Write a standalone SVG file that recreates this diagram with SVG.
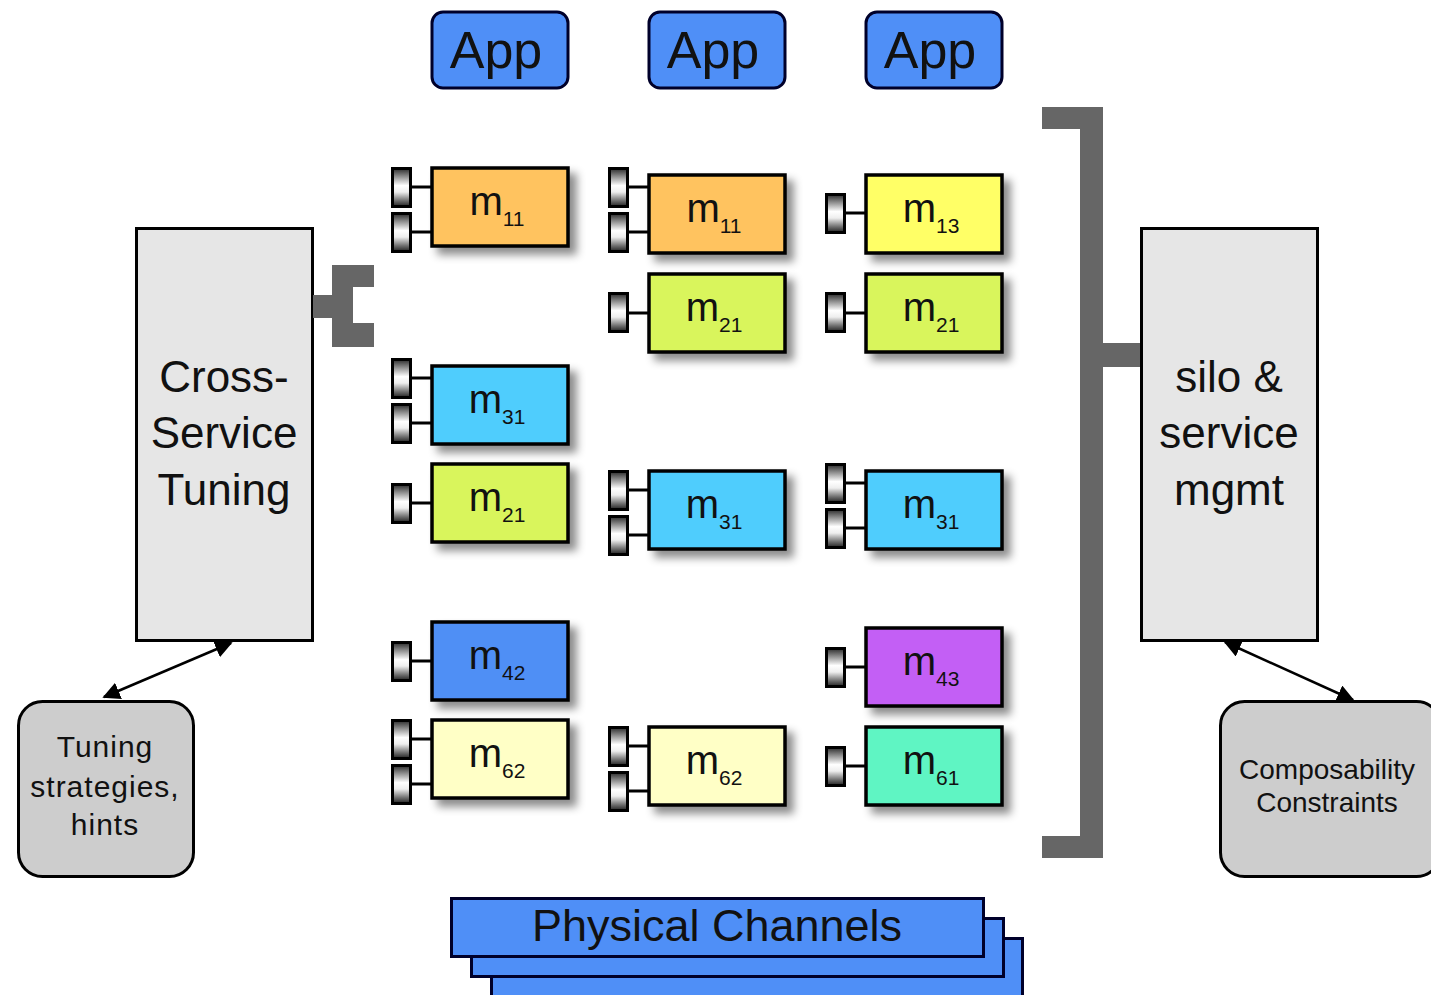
<svg xmlns="http://www.w3.org/2000/svg" width="1431" height="995" viewBox="0 0 1431 995">
  <defs>
    <linearGradient id="portGrad" x1="0" y1="0" x2="0" y2="1">
      <stop offset="0" stop-color="#2a2a2a"/>
      <stop offset="0.2" stop-color="#8a8a8a"/>
      <stop offset="0.45" stop-color="#ffffff"/>
      <stop offset="0.62" stop-color="#eeeeee"/>
      <stop offset="0.85" stop-color="#6e6e6e"/>
      <stop offset="1" stop-color="#202020"/>
    </linearGradient>
    <filter id="shadow" x="-10%" y="-10%" width="130%" height="140%">
      <feDropShadow dx="7" dy="7" stdDeviation="4" flood-color="#000" flood-opacity="0.45"/>
    </filter>
    <marker id="arrowHead" viewBox="0 0 10 10" refX="9" refY="5" markerWidth="7" markerHeight="7" orient="auto-start-reverse" markerUnits="strokeWidth">
      <path d="M0,0 L10,5 L0,10 z" fill="#000"/>
    </marker>
  </defs>
  <style>
    text { font-family: "Liberation Sans", Arial, sans-serif; fill: #111; }
    .app rect { fill: #4f8ff7; stroke: #00002a; stroke-width: 3; }
    .app text { font-size: 52px; text-anchor: middle; }
    .mod rect.box { stroke: #000; stroke-width: 3.5; filter: url(#shadow); }
    .mod text { font-size: 40px; text-anchor: middle; }
    .mod tspan.sub { font-size: 21px; }
    .port { fill: url(#portGrad); stroke: #000; stroke-width: 3; }
    .plink { stroke: #000; stroke-width: 3; }
    .panel rect { fill: #e6e6e6; stroke: #000; stroke-width: 3; }
    .panel text { font-size: 44px; text-anchor: middle; }
    .note rect { fill: #cdcdcd; stroke: #000; stroke-width: 3; }
    .note text { text-anchor: middle; }
    .bracket { fill: #666666; }
    .chan rect { fill: #4f8ff7; stroke: #00002a; stroke-width: 3; }
    .chan text { font-size: 45px; text-anchor: middle; }
    .orange { fill: #ffc35f; }
    .yellow { fill: #ffff66; }
    .lime { fill: #d9f55c; }
    .cyan { fill: #4fcdfd; }
    .blue { fill: #4f8ff5; }
    .cream { fill: #ffffc6; }
    .purple { fill: #c35ff5; }
    .mint { fill: #5ff5c3; }
  </style>

  <rect width="1431" height="995" fill="#ffffff"/>

  <!-- Applications -->
  <g id="app1" class="app"><rect x="432" y="12" width="136" height="76" rx="11"/><text x="496" y="68">App</text></g>
  <g id="app2" class="app"><rect x="649" y="12" width="136" height="76" rx="11"/><text x="713" y="68">App</text></g>
  <g id="app3" class="app"><rect x="866" y="12" width="136" height="76" rx="11"/><text x="930" y="68">App</text></g>

  <!-- Column 1 modules -->
  <g id="c1-m11" class="mod">
    <rect class="box orange" x="432" y="168" width="136" height="78"/>
    <text x="497" y="215">m<tspan class="sub" dy="11">11</tspan></text>
    <line class="plink" x1="410" y1="187" x2="432" y2="187"/><line class="plink" x1="410" y1="232" x2="432" y2="232"/>
    <rect class="port" x="392.5" y="168.5" width="18" height="38"/><rect class="port" x="392.5" y="213.5" width="18" height="38"/>
  </g>
  <g id="c1-m31" class="mod">
    <rect class="box cyan" x="432" y="366" width="136" height="78"/>
    <text x="497" y="413">m<tspan class="sub" dy="11">31</tspan></text>
    <line class="plink" x1="410" y1="378" x2="432" y2="378"/><line class="plink" x1="410" y1="423" x2="432" y2="423"/>
    <rect class="port" x="392.5" y="359.5" width="18" height="38"/><rect class="port" x="392.5" y="404.5" width="18" height="38"/>
  </g>
  <g id="c1-m21" class="mod">
    <rect class="box lime" x="432" y="464" width="136" height="78"/>
    <text x="497" y="511">m<tspan class="sub" dy="11">21</tspan></text>
    <line class="plink" x1="410" y1="503" x2="432" y2="503"/>
    <rect class="port" x="392.5" y="484.5" width="18" height="38"/>
  </g>
  <g id="c1-m42" class="mod">
    <rect class="box blue" x="432" y="622" width="136" height="78"/>
    <text x="497" y="669">m<tspan class="sub" dy="11">42</tspan></text>
    <line class="plink" x1="410" y1="661" x2="432" y2="661"/>
    <rect class="port" x="392.5" y="642.5" width="18" height="38"/>
  </g>
  <g id="c1-m62" class="mod">
    <rect class="box cream" x="432" y="720" width="136" height="78"/>
    <text x="497" y="767">m<tspan class="sub" dy="11">62</tspan></text>
    <line class="plink" x1="410" y1="739" x2="432" y2="739"/><line class="plink" x1="410" y1="784" x2="432" y2="784"/>
    <rect class="port" x="392.5" y="720.5" width="18" height="38"/><rect class="port" x="392.5" y="765.5" width="18" height="38"/>
  </g>

  <!-- Column 2 modules -->
  <g id="c2-m11" class="mod">
    <rect class="box orange" x="649" y="175" width="136" height="78"/>
    <text x="714" y="222">m<tspan class="sub" dy="11">11</tspan></text>
    <line class="plink" x1="627" y1="187" x2="649" y2="187"/><line class="plink" x1="627" y1="232" x2="649" y2="232"/>
    <rect class="port" x="609.5" y="168.5" width="18" height="38"/><rect class="port" x="609.5" y="213.5" width="18" height="38"/>
  </g>
  <g id="c2-m21" class="mod">
    <rect class="box lime" x="649" y="274" width="136" height="78"/>
    <text x="714" y="321">m<tspan class="sub" dy="11">21</tspan></text>
    <line class="plink" x1="627" y1="313" x2="649" y2="313"/>
    <rect class="port" x="609.5" y="293.5" width="18" height="38"/>
  </g>
  <g id="c2-m31" class="mod">
    <rect class="box cyan" x="649" y="471" width="136" height="78"/>
    <text x="714" y="518">m<tspan class="sub" dy="11">31</tspan></text>
    <line class="plink" x1="627" y1="490" x2="649" y2="490"/><line class="plink" x1="627" y1="535" x2="649" y2="535"/>
    <rect class="port" x="609.5" y="471.5" width="18" height="38"/><rect class="port" x="609.5" y="516.5" width="18" height="38"/>
  </g>
  <g id="c2-m62" class="mod">
    <rect class="box cream" x="649" y="727" width="136" height="78"/>
    <text x="714" y="774">m<tspan class="sub" dy="11">62</tspan></text>
    <line class="plink" x1="627" y1="746" x2="649" y2="746"/><line class="plink" x1="627" y1="791" x2="649" y2="791"/>
    <rect class="port" x="609.5" y="727.5" width="18" height="38"/><rect class="port" x="609.5" y="772.5" width="18" height="38"/>
  </g>

  <!-- Column 3 modules -->
  <g id="c3-m13" class="mod">
    <rect class="box yellow" x="866" y="175" width="136" height="78"/>
    <text x="931" y="222">m<tspan class="sub" dy="11">13</tspan></text>
    <line class="plink" x1="844" y1="213" x2="866" y2="213"/>
    <rect class="port" x="826.5" y="194.5" width="18" height="38"/>
  </g>
  <g id="c3-m21" class="mod">
    <rect class="box lime" x="866" y="274" width="136" height="78"/>
    <text x="931" y="321">m<tspan class="sub" dy="11">21</tspan></text>
    <line class="plink" x1="844" y1="313" x2="866" y2="313"/>
    <rect class="port" x="826.5" y="293.5" width="18" height="38"/>
  </g>
  <g id="c3-m31" class="mod">
    <rect class="box cyan" x="866" y="471" width="136" height="78"/>
    <text x="931" y="518">m<tspan class="sub" dy="11">31</tspan></text>
    <line class="plink" x1="844" y1="483" x2="866" y2="483"/><line class="plink" x1="844" y1="528" x2="866" y2="528"/>
    <rect class="port" x="826.5" y="464.5" width="18" height="38"/><rect class="port" x="826.5" y="509.5" width="18" height="38"/>
  </g>
  <g id="c3-m43" class="mod">
    <rect class="box purple" x="866" y="628" width="136" height="78"/>
    <text x="931" y="675">m<tspan class="sub" dy="11">43</tspan></text>
    <line class="plink" x1="844" y1="667" x2="866" y2="667"/>
    <rect class="port" x="826.5" y="648.5" width="18" height="38"/>
  </g>
  <g id="c3-m61" class="mod">
    <rect class="box mint" x="866" y="727" width="136" height="78"/>
    <text x="931" y="774">m<tspan class="sub" dy="11">61</tspan></text>
    <line class="plink" x1="844" y1="766" x2="866" y2="766"/>
    <rect class="port" x="826.5" y="747.5" width="18" height="38"/>
  </g>

  <!-- Side panels -->
  <g id="cross-service-tuning" class="panel">
    <rect x="136.5" y="228.5" width="176" height="412"/>
    <text x="224" y="392">Cross-</text>
    <text x="224" y="448">Service</text>
    <text x="224" y="505">Tuning</text>
  </g>
  <g id="silo-service-mgmt" class="panel">
    <rect x="1141.5" y="228.5" width="176" height="412"/>
    <text x="1229" y="392">silo &amp;</text>
    <text x="1229" y="448">service</text>
    <text x="1229" y="505">mgmt</text>
  </g>

  <!-- Notes -->
  <g id="tuning-strategies" class="note">
    <rect x="18.5" y="701.5" width="175" height="175" rx="24"/>
    <text x="105" y="757" font-size="30" letter-spacing="1">Tuning</text>
    <text x="105" y="797" font-size="30" letter-spacing="1">strategies,</text>
    <text x="105" y="835" font-size="30" letter-spacing="1">hints</text>
  </g>
  <g id="composability" class="note">
    <rect x="1220.5" y="701.5" width="220" height="175" rx="24"/>
    <text x="1327" y="779" font-size="28">Composability</text>
    <text x="1327" y="812" font-size="28">Constraints</text>
  </g>

  <!-- Physical channels -->
  <g id="physical-channels" class="chan">
    <rect x="491.5" y="938.5" width="531" height="70"/>
    <rect x="471.5" y="918.5" width="532" height="58"/>
    <rect x="451.5" y="898.5" width="532" height="58"/>
    <text x="717" y="941">Physical Channels</text>
  </g>

  <!-- Connectors -->
  <g id="connectors">
    <path class="bracket" d="M313,295 H332 V265 H374 V287 H353 V323 H374 V347 H332 V318 H313 Z"/>
    <path class="bracket" d="M1042,107 H1103 V343 H1140 V367 H1103 V858 H1042 V836 H1080 V129 H1042 Z"/>
    <line x1="104" y1="697" x2="231" y2="643" stroke="#000" stroke-width="2.5" marker-start="url(#arrowHead)" marker-end="url(#arrowHead)"/>
    <line x1="1225" y1="642" x2="1353" y2="700" stroke="#000" stroke-width="2.5" marker-start="url(#arrowHead)" marker-end="url(#arrowHead)"/>
  </g>
</svg>
